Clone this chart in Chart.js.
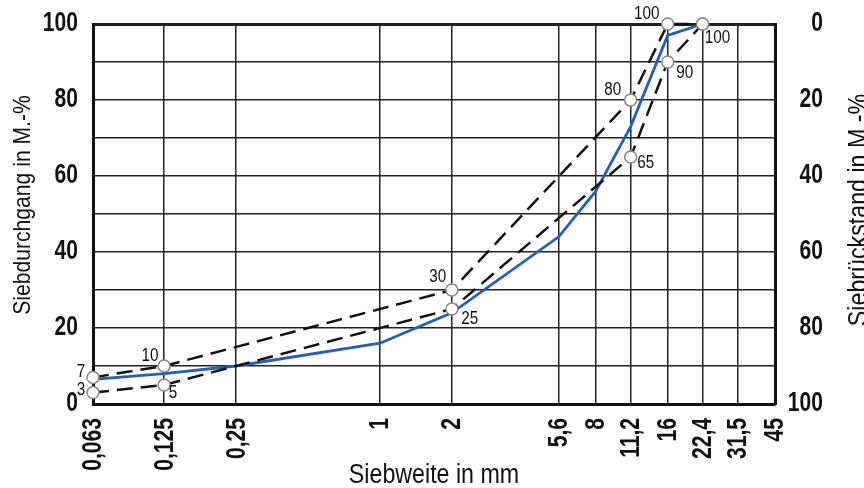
<!DOCTYPE html>
<html>
<head>
<meta charset="utf-8">
<script src="https://cdn.jsdelivr.net/npm/chart.js@4"></script>
<style>
  html, body { margin: 0; padding: 0; background: #fff; }
  #chart { display: block; }
</style>
</head>
<body>
<canvas id="chart" width="864" height="488"></canvas>
<script>
// sieve sizes on the x axis (mm) and how they are printed
const sieveSizes = [0.063, 0.125, 0.25, 1, 2, 5.6, 8, 11.2, 16, 22.4, 31.5, 45];
const sieveLabels = ["0,063", "0,125", "0,25", "1", "2", "5,6", "8", "11,2", "16", "22,4", "31,5", "45"];
const percentLabels = [0, 20, 40, 60, 80, 100];

// measured grading curve (blue)
const curveSizes = [0.063, 0.125, 0.25, 1, 2, 5.6, 8, 11.2, 16, 22.4];
const curvePassing = [6.5, 8, 10, 16, 24, 44, 56, 73, 97, 100];

// limit curves (dashed)
const upperSizes = [0.063, 0.125, 2, 11.2, 16, 22.4];
const upperPassing = [7, 10, 30, 80, 100, 100];
const lowerSizes = [0.063, 0.125, 2, 11.2, 16, 22.4];
const lowerPassing = [3, 5, 25, 65, 90, 100];

const xTitle = "Siebweite in mm";
const yTitle = "Siebdurchgang in M.-%";
const y2Title = "Siebrückstand in M.-%";

const FONT = "'Liberation Sans', Arial, sans-serif";
const INK = "#111";

const toPoints = (xs, ys) => xs.map((x, i) => ({ x, y: ys[i] }));

// label offsets next to the limit points, null = no label
const labelSpecs = [
  { dataset: 0, values: upperPassing, offsets: [[-12, -5], [-14, -10], [-14, -13], [-18, -10], [-21, -10], null] },
  { dataset: 1, values: lowerPassing, offsets: [[-12, -3], [9, 8], [18, 10], [15, 6], [17, 11], [15, 14]] }
];

// no narrow font installed, so text is squeezed horizontally like the print
function squeezedText(ctx, text, x, y, opts) {
  ctx.save();
  ctx.font = opts.font;
  ctx.textAlign = opts.align || "center";
  ctx.textBaseline = opts.baseline || "middle";
  ctx.translate(x, y);
  if (opts.rotate) ctx.rotate(opts.rotate);
  ctx.scale(opts.squeeze || 1, 1);
  ctx.fillText(text, 0, 0);
  ctx.restore();
}

const pointLabels = {
  id: "pointLabels",
  afterDatasetsDraw(chart) {
    const { ctx } = chart;
    ctx.fillStyle = INK;
    labelSpecs.forEach(({ dataset, values, offsets }) => {
      const meta = chart.getDatasetMeta(dataset);
      offsets.forEach((off, i) => {
        if (!off) return;
        const el = meta.data[i];
        squeezedText(ctx, String(values[i]), el.x + off[0], el.y + off[1], { font: `18px ${FONT}`, squeeze: 0.85 });
      });
    });
  }
};

const tickLabels = {
  id: "tickLabels",
  afterDraw(chart) {
    const { ctx, scales } = chart;
    const font = `bold 27px ${FONT}`;
    ctx.fillStyle = INK;
    percentLabels.forEach((v) => {
      squeezedText(ctx, String(v), 78, scales.y.getPixelForValue(v), { font, align: "right", squeeze: 0.78 });
      squeezedText(ctx, String(v), 823, scales.y2.getPixelForValue(v), { font, align: "right", squeeze: 0.78 });
    });
    sieveSizes.forEach((v, i) => {
      squeezedText(ctx, sieveLabels[i], scales.x.getPixelForValue(v) + 1, 418, {
        font, align: "right", rotate: -Math.PI / 2, squeeze: 0.78
      });
    });
  }
};

const axisTitles = {
  id: "axisTitles",
  afterDraw(chart) {
    const { ctx, chartArea } = chart;
    ctx.fillStyle = INK;
    squeezedText(ctx, xTitle, (chartArea.left + chartArea.right) / 2, 483, {
      font: `27px ${FONT}`, baseline: "alphabetic", squeeze: 0.86
    });
    squeezedText(ctx, yTitle, 30, 205, {
      font: `24px ${FONT}`, baseline: "alphabetic", rotate: -Math.PI / 2, squeeze: 0.88
    });
    squeezedText(ctx, y2Title, 867, 210, {
      font: `27px ${FONT}`, baseline: "alphabetic", rotate: -Math.PI / 2, squeeze: 0.86
    });
  }
};

const limitStyle = {
  borderColor: INK,
  borderWidth: 2.5,
  borderDash: [16, 8],
  pointRadius: 6,
  pointBackgroundColor: "#fff",
  pointBorderColor: "#888",
  pointBorderWidth: 1.5,
  clip: false
};

new Chart(document.getElementById("chart"), {
  type: "line",
  data: {
    datasets: [
      { label: "Obergrenze", data: toPoints(upperSizes, upperPassing), ...limitStyle },
      { label: "Untergrenze", data: toPoints(lowerSizes, lowerPassing), ...limitStyle },
      {
        label: "Sieblinie",
        data: toPoints(curveSizes, curvePassing),
        borderColor: "#235fb4",
        borderWidth: 2.8,
        pointRadius: 0,
        tension: 0,
        clip: false
      }
    ]
  },
  options: {
    responsive: false,
    animation: false,
    layout: { padding: { top: 24, left: 0, right: 0, bottom: 0 } },
    plugins: { legend: { display: false }, tooltip: { enabled: false } },
    scales: {
      x: {
        type: "logarithmic",
        position: "bottom",
        min: 0.063,
        max: 45,
        bounds: "data",
        afterBuildTicks: (scale) => { scale.ticks = sieveSizes.map((value) => ({ value })); },
        afterFit: (scale) => { scale.height = 84; scale.paddingLeft = 0; scale.paddingRight = 0; },
        ticks: { display: false },
        grid: { color: "#222", lineWidth: 1.5, drawTicks: false },
        border: { display: true, color: INK, width: 3 }
      },
      y: {
        position: "left",
        min: 0,
        max: 100,
        afterFit: (scale) => { scale.width = 93; scale.paddingTop = 0; scale.paddingBottom = 0; },
        ticks: { display: false, stepSize: 10 },
        grid: {
          color: "#222",
          lineWidth: (c) => (c.tick && c.tick.value === 100 ? 3 : 1.5),
          drawTicks: false
        },
        border: { display: true, color: INK, width: 3 }
      },
      y2: {
        position: "right",
        reverse: true,
        min: 0,
        max: 100,
        afterFit: (scale) => { scale.width = 89; scale.paddingTop = 0; scale.paddingBottom = 0; },
        ticks: { display: false, stepSize: 10 },
        grid: { drawOnChartArea: false, drawTicks: false },
        border: { display: true, color: INK, width: 3 }
      }
    }
  },
  plugins: [pointLabels, tickLabels, axisTitles]
});
</script>
</body>
</html>
